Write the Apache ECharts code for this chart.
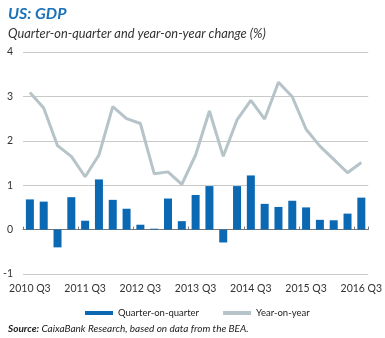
<!DOCTYPE html>
<html><head><meta charset="utf-8">
<script src="https://cdn.jsdelivr.net/npm/echarts@6/dist/echarts.min.js"></script>
<style>html,body{margin:0;padding:0;background:#fff}#c{width:385px;height:338px}</style>
</head><body><div id="c"></div>
<script>
const categories = ['2010 Q3','2010 Q4','2011 Q1','2011 Q2','2011 Q3','2011 Q4','2012 Q1','2012 Q2','2012 Q3','2012 Q4','2013 Q1','2013 Q2','2013 Q3','2013 Q4','2014 Q1','2014 Q2','2014 Q3','2014 Q4','2015 Q1','2015 Q2','2015 Q3','2015 Q4','2016 Q1','2016 Q2','2016 Q3'];
const quarterOnQuarter = [0.68,0.63,-0.40,0.73,0.20,1.13,0.67,0.47,0.11,0.02,0.70,0.19,0.78,0.98,-0.29,0.98,1.22,0.58,0.51,0.65,0.50,0.22,0.21,0.36,0.72];
const yearOnYear = [3.09,2.74,1.89,1.65,1.19,1.68,2.77,2.50,2.39,1.26,1.30,1.02,1.68,2.67,1.65,2.47,2.91,2.49,3.32,2.99,2.26,1.88,1.58,1.28,1.51];
const yTicks = [-1,0,1,2,3,4];

const FONT = 'Lato';
const chart = echarts.init(document.getElementById('c'), null, {renderer:'canvas'});
chart.setOption({
  animation:false,
  backgroundColor:'#fff',
  textStyle:{fontFamily:FONT},
  title:[
    {text:'US: GDP', left:3, top:1, textStyle:{fontFamily:FONT, fontSize:16, fontWeight:'bold', fontStyle:'italic', color:'#1a72ba'}},
    {text:'Quarter-on-quarter and year-on-year change (%)', left:3, top:22, textStyle:{fontFamily:FONT, fontSize:12.8, fontWeight:'normal', fontStyle:'italic', color:'#333'}},
    {text:'{b|Source:} CaixaBank Research, based on data from the BEA.', left:3, top:319,
     textStyle:{fontFamily:FONT, fontSize:10, fontWeight:'normal', fontStyle:'italic', color:'#222',
       rich:{b:{fontFamily:FONT, fontSize:10, fontWeight:'bold', fontStyle:'italic', color:'#222'}}}}
  ],
  legend:{
    left:80, top:303, itemWidth:28, itemHeight:4, itemGap:24,
    textStyle:{fontFamily:FONT, fontSize:9.5, color:'#222'},
    data:[{name:'Quarter-on-quarter', icon:'rect'},{name:'Year-on-year', icon:'rect'}]
  },
  grid:{left:22, right:13, top:52, bottom:64},
  xAxis:[
    {type:'category', data:categories, position:'bottom', boundaryGap:true,
     axisLine:{show:false, onZero:false}, axisTick:{show:false},
     axisLabel:{interval:3, margin:9, fontSize:10.5, color:'#333', fontFamily:FONT}},
    {type:'category', data:categories, position:'top', boundaryGap:true,
     axisLine:{show:true, onZero:true, lineStyle:{color:'#777', width:1}},
     axisTick:{show:true, interval:3, length:3, inside:false, lineStyle:{color:'#777'}},
     axisLabel:{show:false}}
  ],
  yAxis:{type:'value', min:yTicks[0], max:yTicks[yTicks.length-1], interval:1,
    axisLine:{show:false}, axisTick:{show:false},
    axisLabel:{margin:10, fontSize:10.5, color:'#333', fontFamily:FONT},
    splitLine:{show:true, lineStyle:{color:'#c9c9c9', width:1}}},
  series:[
    {name:'Quarter-on-quarter', type:'bar', data:quarterOnQuarter, barWidth:8, xAxisIndex:0,
     itemStyle:{color:'#0b69b4'}},
    {name:'Year-on-year', type:'line', data:yearOnYear, xAxisIndex:0, symbol:'none',
     lineStyle:{color:'#b6c4c9', width:3}, itemStyle:{color:'#b6c4c9'}, z:3}
  ]
});
</script></body></html>
